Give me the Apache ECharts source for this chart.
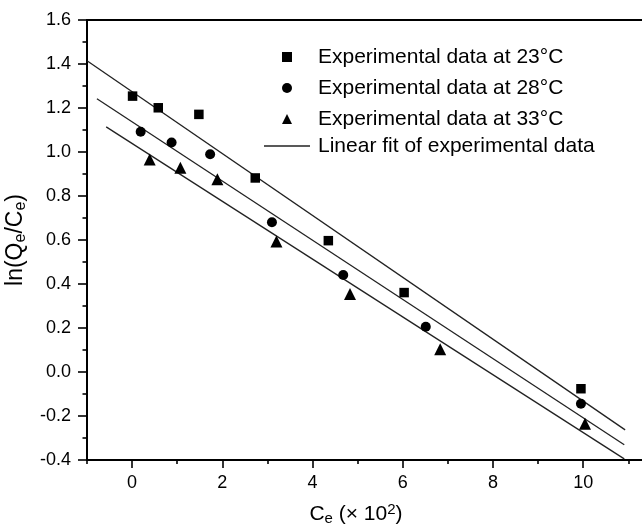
<!DOCTYPE html>
<html>
<head>
<meta charset="utf-8">
<script src="https://cdn.jsdelivr.net/npm/echarts@6/dist/echarts.min.js"></script>
<style>
html,body{margin:0;padding:0;background:#fff;}
#chart{width:642px;height:528px;}
</style>
</head>
<body>
<div id="chart"></div>
<script>
// ---- data ----
const names = ['Experimental data at 23°C', 'Experimental data at 28°C', 'Experimental data at 33°C'];
const fitName = 'Linear fit of experimental data';

const x23 = [0.01, 0.58, 1.48, 2.73, 4.35, 6.03, 9.95];
const y23 = [1.254, 1.201, 1.171, 0.882, 0.597, 0.361, -0.076];
const x28 = [0.19, 0.875, 1.73, 3.10, 4.68, 6.51, 9.95];
const y28 = [1.092, 1.043, 0.990, 0.681, 0.441, 0.206, -0.144];
const x33 = [0.39, 1.07, 1.89, 3.20, 4.83, 6.83, 10.04];
const y33 = [0.966, 0.928, 0.876, 0.593, 0.354, 0.103, -0.235];

// fit line end points (x, y)
const fit23X = [-1.0, 10.93];
const fit23Y = [1.415, -0.263];
const fit28X = [-0.78, 10.91];
const fit28Y = [1.242, -0.331];
const fit33X = [-0.575, 10.91];
const fit33Y = [1.114, -0.395];

const xMajorTicks = [0, 2, 4, 6, 8, 10];
const xMinorTicks = [-1, 1, 3, 5, 7, 9, 11];
const yTicks = [-0.4, -0.2, 0.0, 0.2, 0.4, 0.6, 0.8, 1.0, 1.2, 1.4, 1.6];

// ---- build ----
const pairs = (xs, ys) => xs.map((x, i) => [x, ys[i]]);
const FONT = 'Liberation Sans, Arial, Helvetica, sans-serif';
const black = '#000000';
const X_MIN = -1, X_MAX = 11.37;

const chart = echarts.init(document.getElementById('chart'), null, {renderer: 'canvas'});

const fitStyle = {color: '#222', width: 1.3};
function fitSeries(xs, ys) {
  return {
    name: fitName, type: 'line', data: pairs(xs, ys), symbol: 'none', showSymbol: false,
    lineStyle: fitStyle, itemStyle: {color: '#222'}, silent: true, z: 1, animation: false
  };
}
function scatterSeries(name, xs, ys, symbol, size) {
  return {
    name: name, type: 'scatter', data: pairs(xs, ys), symbol: symbol, symbolSize: size,
    itemStyle: {color: black, opacity: 1}, z: 3, animation: false
  };
}
const legendText = {fontSize: 21, lineHeight: 24, color: black, fontFamily: FONT};

const option = {
  backgroundColor: '#fff',
  animation: false,
  grid: {left: 87, right: -3, top: 20, bottom: 68, outerBoundsMode: 'none', containLabel: false,
         show: true, borderColor: '#000', borderWidth: 2, backgroundColor: 'rgba(0,0,0,0)'},
  legend: [
    {
      data: names.map((n, i) => ({name: n, icon: ['rect', 'circle', 'triangle'][i]})),
      orient: 'vertical', left: 282, top: 45, padding: 0,
      itemWidth: 10, itemHeight: 10, itemGap: 7,
      textStyle: Object.assign({padding: [0, 0, 0, 21]}, legendText)
    },
    {
      data: [{name: fitName, icon: 'path://M0 0H46V1.3H0Z'}],
      orient: 'vertical', left: 264, top: 134, padding: 0,
      itemWidth: 46, itemHeight: 1.3, itemGap: 7,
      textStyle: Object.assign({padding: [0, 0, 0, 3]}, legendText)
    }
  ],
  xAxis: [
    {
      type: 'value', min: X_MIN, max: X_MAX, position: 'bottom',
      axisLine: {show: true, onZero: false, lineStyle: {color: '#000', width: 2}},
      axisTick: {show: true, customValues: xMajorTicks, length: 8, lineStyle: {color: black, width: 1.6}},
      axisLabel: {show: true, customValues: xMajorTicks, fontSize: 18, margin: 14, color: black, fontFamily: FONT},
      splitLine: {show: false},
      name: 'C{s|e} (× 10{p|2})',
      nameLocation: 'middle', nameGap: 42,
      nameTextStyle: {
        fontSize: 21, lineHeight: 24, color: black, fontFamily: FONT, padding: [0, 20, 0, 0],
        rich: {
          s: {fontSize: 15, lineHeight: 14, verticalAlign: 'bottom', color: black, fontFamily: FONT},
          p: {fontSize: 15, lineHeight: 14, verticalAlign: 'top', color: black, fontFamily: FONT}
        }
      }
    },
    {
      type: 'value', min: X_MIN, max: X_MAX, position: 'bottom',
      axisLine: {show: false, onZero: false},
      axisTick: {show: true, customValues: xMinorTicks, length: 4, lineStyle: {color: black, width: 1.6}},
      axisLabel: {show: false},
      splitLine: {show: false}
    }
  ],
  yAxis: [
    {
      type: 'value', min: yTicks[0], max: yTicks[yTicks.length - 1], interval: 0.2,
      axisLine: {show: true, onZero: false, lineStyle: {color: '#000', width: 2}},
      axisTick: {show: true, length: 9, lineStyle: {color: black, width: 1.6}},
      minorTick: {show: true, splitNumber: 2, length: 4.5, lineStyle: {color: black, width: 1.6}},
      axisLabel: {
        fontSize: 18, margin: 16, color: black, fontFamily: FONT,
        formatter: v => Number(v).toFixed(1)
      },
      splitLine: {show: false}, minorSplitLine: {show: false},
      name: 'ln(Q{s|e}/C{s|e})',
      nameLocation: 'middle', nameGap: 44,
      nameTextStyle: {
        fontSize: 23, lineHeight: 26, color: black, fontFamily: FONT,
        rich: {
          s: {fontSize: 16, lineHeight: 15, verticalAlign: 'bottom', color: black, fontFamily: FONT}
        }
      }
    }
  ],
  series: [
    fitSeries(fit23X, fit23Y),
    fitSeries(fit28X, fit28Y),
    fitSeries(fit33X, fit33Y),
    scatterSeries(names[0], x23, y23, 'rect', 9.5),
    scatterSeries(names[1], x28, y28, 'circle', 10),
    scatterSeries(names[2], x33, y33, 'triangle', 12)
  ]
};
chart.setOption(option);
</script>
</body>
</html>
